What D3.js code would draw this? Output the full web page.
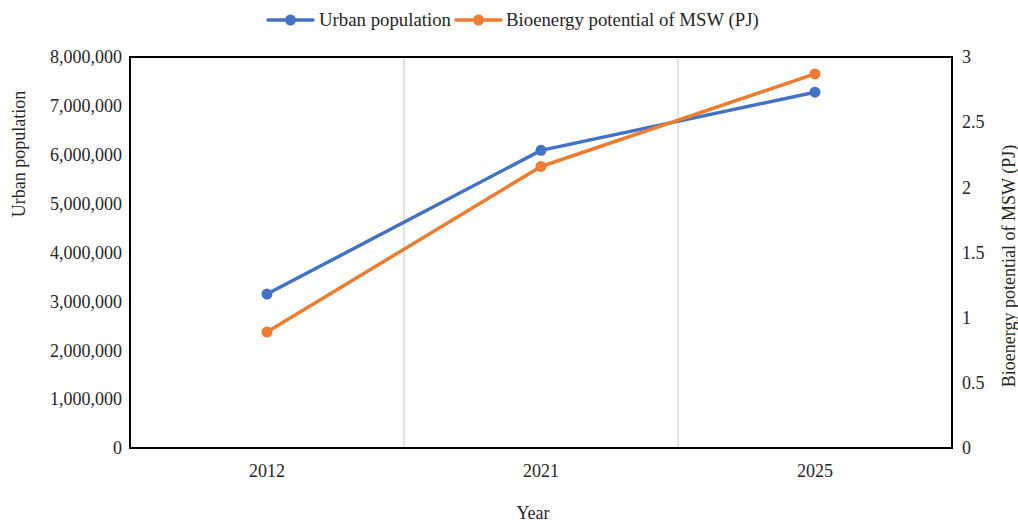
<!DOCTYPE html>
<html>
<head>
<meta charset="utf-8">
<script src="https://cdn.jsdelivr.net/npm/d3@7"></script>
<style>
  html, body { margin: 0; padding: 0; background: #fff; }
  svg { display: block; }
  svg text { font-family: "Liberation Serif", "Times New Roman", Times, serif !important; }
</style>
</head>
<body>
<svg id="chart" width="1018" height="522"></svg>
<script>
// Data
const years = ["2012", "2021", "2025"];
const urbanPopulation = [3150000, 6090000, 7280000];
const bioenergyPJ = [0.89, 2.16, 2.87];
const leftTicks = [0, 1000000, 2000000, 3000000, 4000000, 5000000, 6000000, 7000000, 8000000];
const rightTicks = [0, 0.5, 1, 1.5, 2, 2.5, 3];

const seriesNames = ["Urban population", "Bioenergy potential of MSW (PJ)"];
const colors = ["#4472C4", "#ED7D31"];

const svg = d3.select("#chart");
const W = 1018, H = 522;
const margin = { left: 130, right: W - 952, top: 57, bottom: H - 448 };

const x = d3.scaleBand().domain(years).range([margin.left, W - margin.right]);
const yL = d3.scaleLinear().domain([0, 8000000]).range([H - margin.bottom, margin.top]);
const yR = d3.scaleLinear().domain([0, 3]).range([H - margin.bottom, margin.top]);

// vertical gridlines between categories
const bounds = years.slice(1).map(d => x(d));
svg.append("g").selectAll("line").data(bounds).join("line")
  .attr("x1", d => d).attr("x2", d => d)
  .attr("y1", margin.top).attr("y2", H - margin.bottom)
  .attr("stroke", "#c8c8c8").attr("stroke-width", 1);

// plot frame
svg.append("rect")
  .attr("x", margin.left).attr("y", margin.top)
  .attr("width", W - margin.left - margin.right)
  .attr("height", H - margin.top - margin.bottom)
  .attr("fill", "none").attr("stroke", "#000").attr("stroke-width", 2);

const fmt = d3.format(",");
const tickFont = "18px";
const textColor = "#262626";

function styleAxis(g) {
  g.select(".domain").remove();
  g.selectAll("text").attr("font-size", tickFont).attr("fill", textColor);
}

// left axis
svg.append("g").attr("transform", `translate(${margin.left},0)`)
  .call(d3.axisLeft(yL).tickValues(leftTicks).tickFormat(d => d === 0 ? "0" : fmt(d)).tickSize(0).tickPadding(8))
  .call(styleAxis);

// right axis
svg.append("g").attr("transform", `translate(${W - margin.right},0)`)
  .call(d3.axisRight(yR).tickValues(rightTicks).tickFormat(d => String(d)).tickSize(0).tickPadding(10))
  .call(styleAxis);

// bottom axis
svg.append("g").attr("transform", `translate(0,${H - margin.bottom})`)
  .call(d3.axisBottom(x).tickSize(0).tickPadding(16))
  .call(styleAxis);

// axis titles
svg.append("text").attr("transform", "translate(25,154) rotate(-90)")
  .attr("text-anchor", "middle").attr("font-size", "18px").attr("fill", textColor).text("Urban population");
svg.append("text").attr("transform", "translate(1015,266) rotate(-90)")
  .attr("text-anchor", "middle").attr("font-size", "18px").attr("fill", textColor).text("Bioenergy potential of MSW (PJ)");
svg.append("text").attr("x", 533).attr("y", 519)
  .attr("text-anchor", "middle").attr("font-size", "18px").attr("fill", textColor).text("Year");

// series
const series = [
  { name: seriesNames[0], values: urbanPopulation, y: yL, color: colors[0] },
  { name: seriesNames[1], values: bioenergyPJ, y: yR, color: colors[1] }
];

const cx = d => x(d) + x.bandwidth() / 2;
series.forEach(s => {
  const pts = years.map((yr, i) => [cx(yr), s.y(s.values[i])]);
  svg.append("path").attr("d", d3.line()(pts))
    .attr("fill", "none").attr("stroke", s.color).attr("stroke-width", 3.5)
    .attr("stroke-linejoin", "round").attr("stroke-linecap", "round");
  svg.append("g").selectAll("circle").data(pts).join("circle")
    .attr("cx", d => d[0]).attr("cy", d => d[1]).attr("r", 5.5).attr("fill", s.color);
});

// legend
const legend = svg.append("g").attr("font-size", "18.8px");
const legendItems = [{ x: 268, textX: 319 }, { x: 456, textX: 506 }];
series.forEach((s, i) => {
  const g = legend.append("g");
  const lx = legendItems[i].x;
  g.append("line").attr("x1", lx).attr("x2", lx + 45).attr("y1", 20).attr("y2", 20)
    .attr("stroke", s.color).attr("stroke-width", 3.5).attr("stroke-linecap", "round");
  g.append("circle").attr("cx", lx + 22.5).attr("cy", 20).attr("r", 5.5).attr("fill", s.color);
  g.append("text").attr("x", legendItems[i].textX).attr("y", 26).attr("fill", textColor).text(s.name);
});
</script>
</body>
</html>
